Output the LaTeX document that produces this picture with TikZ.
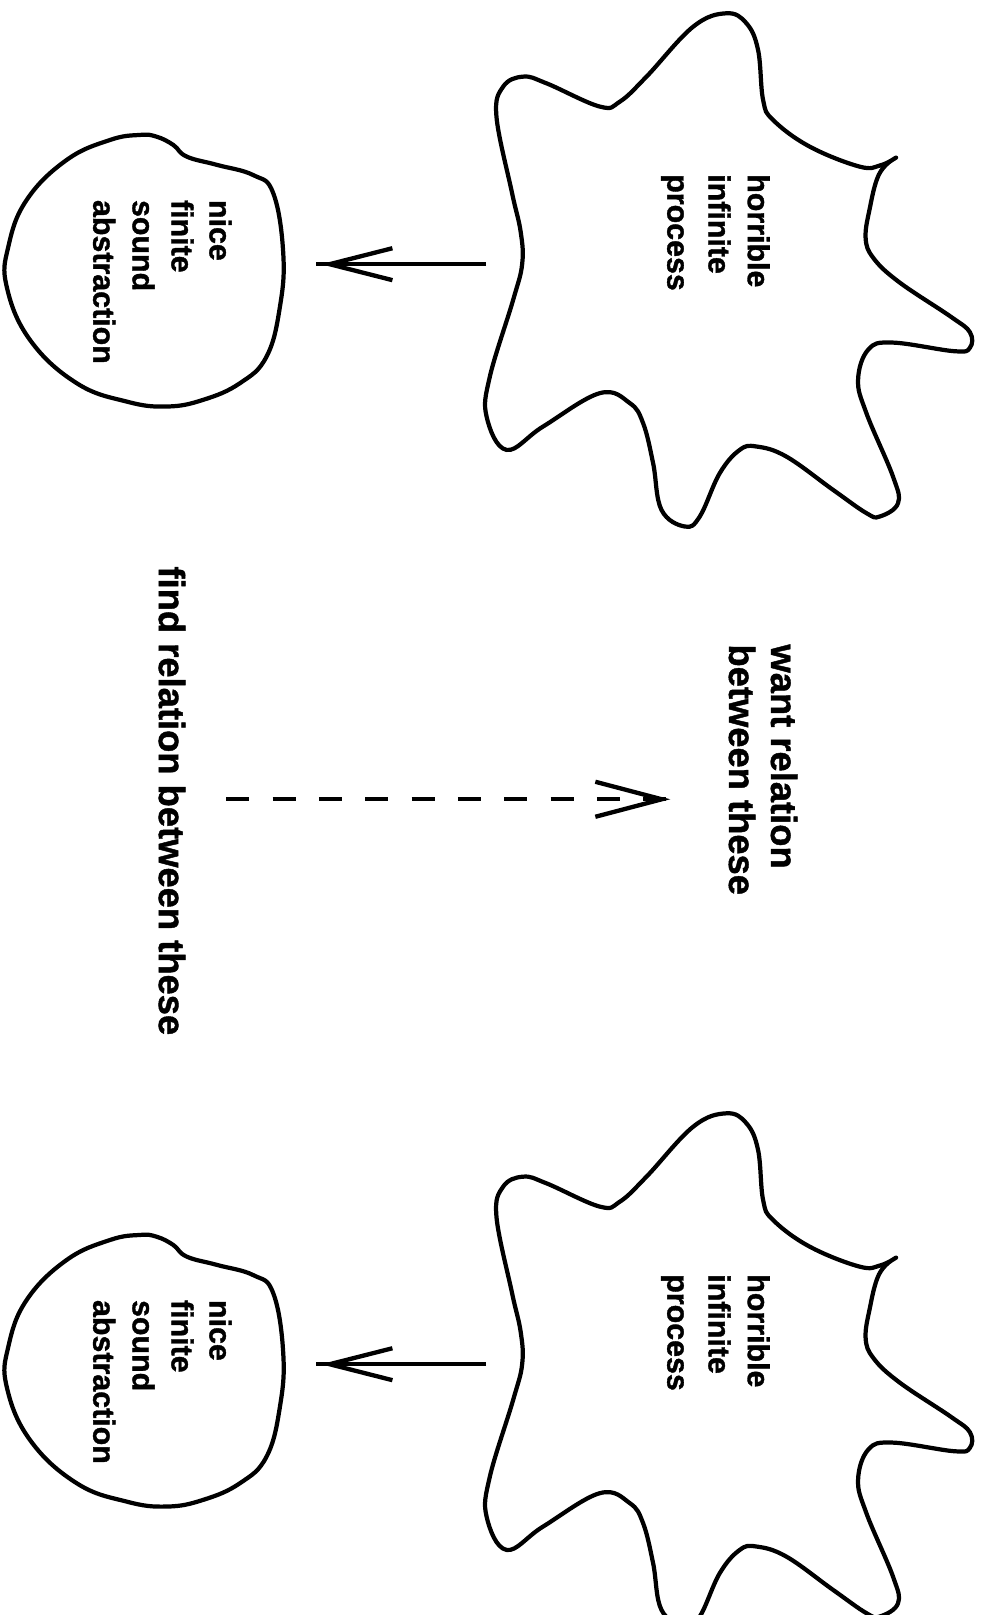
\documentclass[tikz,border=0pt]{standalone}
\usepackage{fontspec}
\setmainfont{Liberation Sans}[BoldFeatures={FakeBold=1.2}]
\usetikzlibrary{calc}
\newcommand\drawgroup[2]{%
\begin{scope}[shift={(0,#2)}]
  % horrible infinite process (star blob)
  \draw[outline] plot[smooth, tension=0.65] coordinates {
    (870,153) (859.8,160.5) (851.5,173.8) (844.8,200.6) (840.4,230.7) (848.1,250.7)
    (873.2,274.1) (923.3,307.6) (941.7,322.6) (941.7,337.6) (926.7,341) (866.5,332.6)
    (843.1,339.3) (833.1,368.8) (841.2,401.2) (867,462.7) (871.9,488.5) (854.1,501.5)
    (841.2,498.2) (808.8,475.6) (763.5,443.3) (734.4,433.5) (718.2,436.8) (698.8,459.4)
    (679.4,501.5) (664.9,511.2) (642.2,495) (634.1,449.7) (624.4,410.9) (611.5,391.4)
    (582.4,381.7) (527.3,414.1) (491.8,436.8) (472.4,404.4) (475.6,365.6) (498.2,291.2)
    (507,256) (505.5,225) (497.1,187.2) (482,113.2) (488.5,84.1) (508,74.4)
    (530.6,80.9) (582.4,103.5) (601.8,98.7) (627.7,74.4) (673,25.9) (705.3,12.9)
    (724.7,22.6) (736,48.5) (740.9,97.1) (750.6,116.5) (786.2,142.4) (834.7,161.8)
    (854.8,160.5) (870,153)};
  % nice finite sound abstraction (round blob)
  \draw[outline] plot[smooth cycle, tension=0.7] coordinates {
    (152,132.7) (168.2,140.7) (181.2,152) (210.3,160) (245.9,170) (265.3,187.6)
    (275,245.9) (271.8,297.7) (258.8,346.2) (233,372) (197.3,388.2) (161.8,394.7)
    (123,389.9) (74.4,372) (29.1,330) (6.5,278.3) (8.1,239.4) (25.9,194.1)
    (64.7,155.3) (106.8,135.9) (135.9,131)};
  \node[small] (horrible#1) at (726,169) {horrible};
  \node[small] (infinite#1) at (688,169) {infinite};
  \node[small] (process#1)  at (648,169) {process};
  \node[small] (nice#1)     at (203.5,194) {nice};
  \node[small] (finite#1)   at (166.6,194) {finite};
  \node[small] (sound#1)    at (128.8,194) {sound};
  \node[small] (abstr#1)    at (90.6,194) {abstraction};
  \coordinate (from#1) at (472,256.5);
  \coordinate (to#1) at (307,256.5);
  \draw[conn] (from#1) -- (to#1);
  \draw[conn] ($(to#1)+(74,-15.5)$) -- ($(to#1)+(13,0)$) -- ($(to#1)+(74,15.5)$);
\end{scope}}
\begin{document}
\begin{tikzpicture}[x=1pt,y=-1pt,
  outline/.style={line width=4.1pt, line join=round, line cap=round},
  conn/.style={line width=4.2pt},
  small/.style={rotate=-90, anchor=base west, inner sep=0pt,
    font=\fontsize{29.5}{36}\selectfont\bfseries},
  big/.style={rotate=-90, anchor=base west, inner sep=0pt,
    font=\fontsize{35.3}{42}\selectfont\bfseries}]
\useasboundingbox (0,0) rectangle (956,1568);
\drawgroup{a}{0}
\drawgroup{b}{1068}
\node[big] (want) at (748.6,625.5) {want relation};
\node[big] (between) at (707.8,625.5) {between these};
\node[big] (find) at (154.3,549.8) {find relation between these};
\coordinate (dstart) at (219.6,776);
\coordinate (dend) at (646.5,776);
\draw[conn, dash pattern=on 22.5pt off 22.5pt] (dstart) -- (dend);
\draw[conn] ($(dend)+(-68.5,-17)$) -- ($(dend)+(-4,0)$) -- ($(dend)+(-68.5,17)$);
\end{tikzpicture}
\end{document}
